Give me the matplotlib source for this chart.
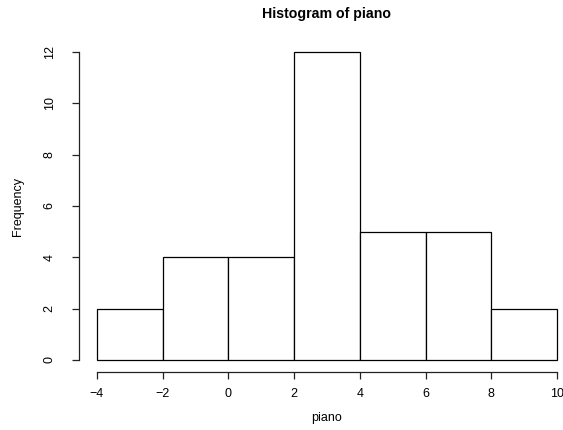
import matplotlib
matplotlib.use("Agg")
import matplotlib.pyplot as plt
import numpy as np

plt.rcParams['font.family'] = ['Liberation Sans', 'DejaVu Sans']

breaks = [-4, -2, 0, 2, 4, 6, 8, 10]
counts = [2, 4, 4, 12, 5, 5, 2]
xticks = [-4, -2, 0, 2, 4, 6, 8, 10]
yticks = [0, 2, 4, 6, 8, 10, 12]
title = "Histogram of piano"
xlabel = "piano"
ylabel = "Frequency"

W, H = 563, 430
fig = plt.figure(figsize=(W / 100, H / 100), dpi=100)
l_px, r_px, t_px, b_px = 78.6, 575.4, 39.7, 372.3
ax = fig.add_axes([l_px / W, (H - b_px) / H, (r_px - l_px) / W, (b_px - t_px) / H])

lefts = np.array(breaks[:-1])
widths = np.diff(breaks)
ax.bar(lefts, counts, width=widths, align='edge', facecolor='white',
       edgecolor='black', linewidth=0.9)

xr = breaks[-1] - breaks[0]
ax.set_xlim(breaks[0] - 0.04 * xr, breaks[-1] + 0.04 * xr)
ymax = max(counts)
ax.set_ylim(-0.04 * ymax, ymax * 1.04)

for s in ['top', 'right']:
    ax.spines[s].set_visible(False)
ax.spines['left'].set_bounds(yticks[0], yticks[-1])
ax.spines['bottom'].set_bounds(xticks[0], xticks[-1])
for s in ['left', 'bottom']:
    ax.spines[s].set_linewidth(0.9)
    ax.spines[s].set_color('#222222')

ax.set_xticks(xticks)
ax.set_xticklabels([str(v).replace('-', '\u2212') for v in xticks])
ax.set_yticks(yticks)
ax.set_yticklabels([str(v) for v in yticks], rotation=90, va='center')
ax.tick_params(axis='both', direction='out', length=5, width=0.9,
               color='#222222', labelsize=9)
ax.tick_params(axis='x', pad=6.5)
ax.tick_params(axis='y', pad=11.5)

fig.text(327 / W, 1 - 14 / H, title, ha='center', va='center',
         fontsize=10.2, fontweight='bold')
fig.text(327 / W, 1 - 418 / H, xlabel, ha='center', va='center', fontsize=9)
fig.text(18 / W, 1 - 206 / H, ylabel, ha='center', va='center', fontsize=9,
         rotation=90)

fig.savefig("out.png", dpi=100)
